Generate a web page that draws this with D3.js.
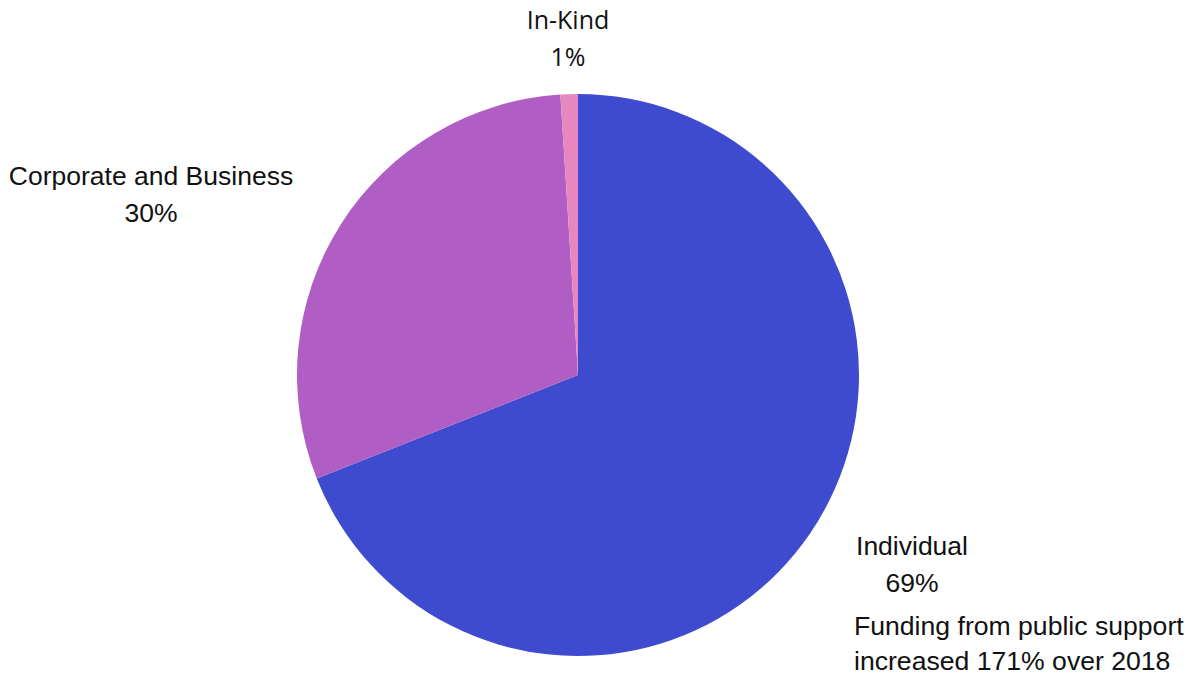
<!DOCTYPE html>
<html>
<head>
<meta charset="utf-8">
<script src="https://cdn.jsdelivr.net/npm/d3@7"></script>
<style>
  body { margin: 0; background: #fff; }
  text { font-family: "Liberation Sans", Arial, sans-serif; fill: #111; }
</style>
</head>
<body>
<svg width="1202" height="686"></svg>
<script>
var categories = ["Individual", "Corporate and Business", "In-Kind"];
var values = [69, 30, 1];
var colors = ["#3f4bcf", "#b05ec3", "#e688bf"];
var note = ["Funding from public support", "increased 171% over 2018"];

var svg = d3.select("svg"),
    cx = 578, cy = 375, radius = 281;

var data = categories.map(function(c, i) { return {name: c, value: values[i], color: colors[i]}; });

var pie = d3.pie().sort(null).value(function(d) { return d.value; });
var arc = d3.arc().innerRadius(0).outerRadius(radius);

var g = svg.append("g").attr("transform", "translate(" + cx + "," + cy + ")");

g.selectAll("path")
    .data(pie(data))
    .enter().append("path")
    .attr("d", arc)
    .attr("fill", function(d) { return d.data.color; });

// label spots (outside the pie, placed by eye)
var labelPos = [
  {x: 912, y: 555, font: null},
  {x: 151, y: 185, font: null},
  {x: 568, y: 29, font: "'Open Sans', 'Noto Sans', sans-serif"}
];

data.forEach(function(d, i) {
  var p = labelPos[i];
  var t = svg.append("text")
      .attr("x", p.x)
      .attr("y", p.y)
      .attr("text-anchor", "middle")
      .style("font-size", "26.5px");
  if (p.font) t.style("font-family", p.font).style("font-size", "25px");
  t.append("tspan").attr("x", p.x).text(d.name);
  t.append("tspan").attr("x", p.x).attr("dy", 37).text(d.value + "%");
});

svg.selectAll(".note")
    .data(note)
    .enter().append("text")
    .attr("class", "note")
    .attr("x", 854)
    .attr("y", function(d, i) { return 635 + i * 35; })
    .style("font-size", "26.6px")
    .text(function(d) { return d; });
</script>
</body>
</html>
